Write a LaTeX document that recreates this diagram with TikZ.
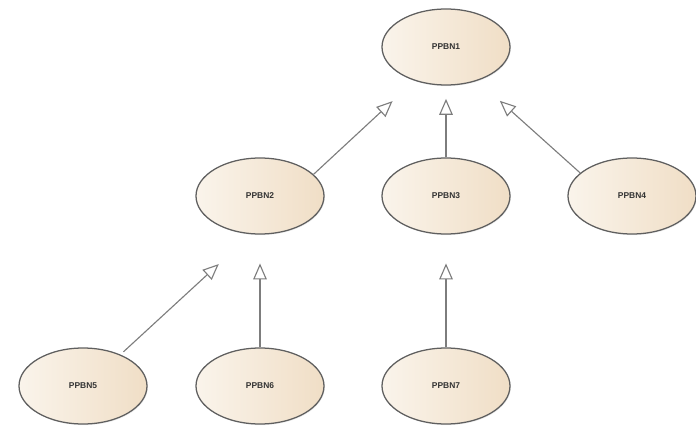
\documentclass[tikz,border=0pt]{standalone}
\usepackage{fontspec}
\setsansfont{Liberation Sans}
\usetikzlibrary{positioning,arrows.meta,shapes.geometric,shadows}
\definecolor{beigeL}{RGB}{250,244,235}
\definecolor{beigeR}{RGB}{240,222,198}
\definecolor{rim}{RGB}{95,95,95}
\definecolor{wire}{RGB}{125,125,125}

\begin{document}
\begin{tikzpicture}[node distance=3.725cm and 4.65cm,on grid,
    cls/.style={ellipse,draw=rim,line width=0.9pt,left color=beigeL,right color=beigeR,
      minimum width=3.2cm,minimum height=1.9cm,inner sep=0pt,
      drop shadow={opacity=0.15,shadow xshift=0.6pt,shadow yshift=-0.8pt},
      font=\sffamily\bfseries\fontsize{6}{7}\selectfont,text=black!80},
    gen/.style={-{Triangle[open,length=0.4cm,width=0.34cm]},color=wire,line width=0.8pt}]
   \useasboundingbox (0,0) rectangle (17.4,10.875);
   \node[cls] (b_1) at (11.15,9.7) {PPBN1};
   \node[cls] (b_3) [below=of b_1] {PPBN3};
   \node[cls] (b_2) [left=of b_3] {PPBN2};
   \node[cls] (b_4) [right=of b_3] {PPBN4};
   \node[cls] (b_7) [below=4.75cm of b_3] {PPBN7};
   \node[cls] (b_6) [below=4.75cm of b_2] {PPBN6};
   \node[cls] (b_5) [left=4.425cm of b_6] {PPBN5};
    \path[gen]
    (b_2.22) edge [shorten >=0.75cm] (b_1.227)
    (b_3) edge [shorten >=0.33cm] (b_1)
    (b_4.156) edge [shorten >=0.75cm] (b_1.313)
    (b_5.40) edge [shorten <=0.1cm,shorten >=1.1cm] (b_2.257)
    (b_6) edge [shorten >=0.72cm] (b_2)
    (b_7) edge [shorten >=0.72cm] (b_3)
    ;
\end{tikzpicture}
\end{document}
